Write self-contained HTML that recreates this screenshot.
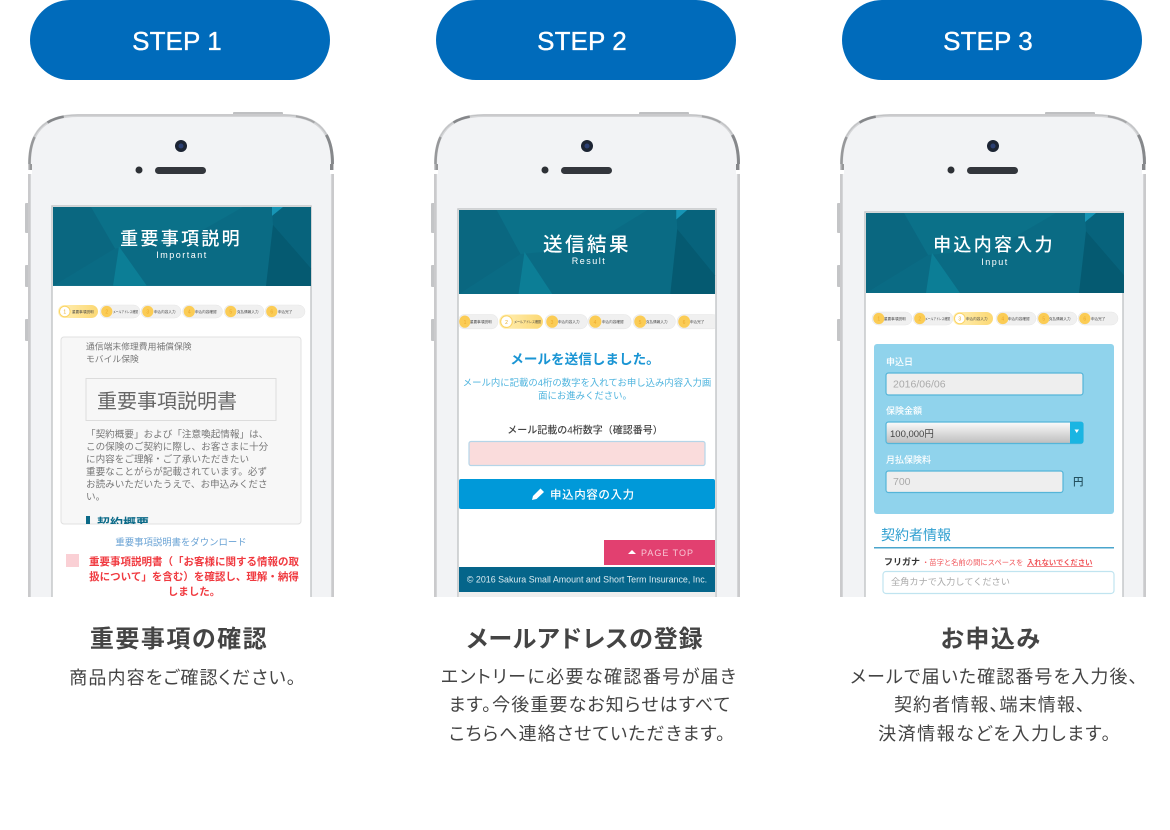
<!DOCTYPE html>
<html lang="ja">
<head>
<meta charset="utf-8">
<title>STEP</title>
<style>
html,body{margin:0;padding:0;background:#fff;width:1170px;height:830px;overflow:hidden}
svg{display:block}
text{font-family:"Liberation Sans","Noto Sans CJK JP",sans-serif;text-spacing-trim:space-all}
.step{font-size:26px;fill:#fff;stroke:#fff;stroke-width:.35px;letter-spacing:.1px;text-anchor:middle;dominant-baseline:central}
.cap{font-size:24px;font-weight:700;fill:#444;text-anchor:middle;letter-spacing:1.5px;font-feature-settings:"palt"}
.sub{font-size:18px;fill:#444;text-anchor:middle;letter-spacing:1.100px;font-feature-settings:"palt"}
.ht{font-size:18px;font-weight:500;fill:#fff;text-anchor:middle;letter-spacing:2.300px}
.he{font-size:9px;fill:#fff;text-anchor:middle;letter-spacing:1.5px}
.t{font-size:3.600px;fill:#444}
.n{font-size:5px;fill:#eda92a;text-anchor:middle}
.n2{font-size:5px;fill:#e6a91f;text-anchor:middle}
.w{font-size:9px;font-weight:500;fill:#fff}
</style>
</head>
<body>
<svg width="1170" height="830" viewBox="0 0 1170 830" xmlns="http://www.w3.org/2000/svg">
<defs>
<linearGradient id="sel" x1="0" y1="0" x2="0" y2="1">
<stop offset="0" stop-color="#fbfbfb"/><stop offset="1" stop-color="#bdbdbd"/>
</linearGradient>
<linearGradient id="yel" x1="0" y1="0" x2="1" y2="0">
<stop offset="0" stop-color="#fff0b8"/><stop offset="1" stop-color="#fcd873"/>
</linearGradient>
<g id="phone">
<rect x="-3" y="89" width="4" height="30" rx="1" fill="#c4c5c7"/>
<rect x="-3" y="151" width="4" height="22" rx="1" fill="#c4c5c7"/>
<rect x="-3" y="205" width="4" height="22" rx="1" fill="#c4c5c7"/>
<rect x="205" y="-2" width="50" height="4" rx="1" fill="#bfc0c2"/>
<path d="M1.5,483 V50 C1.5,20 14,1.5 50,1.5 H256 C292,1.5 304.500,20 304.500,50 V483" fill="#f2f3f5" stroke="#d4d5d7" stroke-width="3"/>
<path d="M1,483 V50 C1,20 14,1 50,1 H256 C292,1 305,20 305,50 V483" fill="none" stroke="#bfc0c2" stroke-width="1"/>
<path d="M1.500,50 C1.500,20 14,1.500 50,1.500" pathLength="100" stroke-dasharray="35 100" fill="none" stroke="#97989a" stroke-width="2.500"/>
<path d="M1.500,50 C1.500,20 14,1.500 50,1.500" pathLength="100" stroke-dasharray="0 60 22 100" fill="none" stroke="#85878a" stroke-width="2.500"/>
<path d="M304.500,50 C304.500,20 292,1.500 256,1.500" pathLength="100" stroke-dasharray="38 100" fill="none" stroke="#86888b" stroke-width="3"/>
<path d="M304.500,50 C304.500,20 292,1.500 256,1.500" pathLength="100" stroke-dasharray="0 60 25 100" fill="none" stroke="#a5a6a8" stroke-width="2"/>
<rect x="1.500" y="50" width="2.500" height="6" fill="#97989a"/>
<rect x="302" y="50" width="3" height="6" fill="#86888b"/>
<rect x="0" y="56" width="4" height="4" fill="#fff"/>
<rect x="302" y="56" width="4" height="4" fill="#fff"/>
<circle cx="153" cy="32" r="6" fill="#1c2433"/>
<circle cx="153" cy="32" r="2.500" fill="#2b3f73"/>
<circle cx="111" cy="56" r="3.500" fill="#2d3035"/>
<rect x="127" y="53" width="51" height="7" rx="3.500" fill="#33363c"/>
</g>
<g id="hdr">
<rect width="258" height="80" fill="#0a6b84"/>
<polygon points="0,0 38,0 62,42 0,80" fill="#0a6780"/>
<polygon points="38,0 190,0 128,36 62,42" fill="#0b7189"/>
<polygon points="60,80 66,40 94,80" fill="#0c7e96"/>
<polygon points="213,80 220,18 258,62 258,80" fill="#055a71"/>
<polygon points="219,0 258,0 258,62 220,18" fill="#07637c"/>
<polygon points="219,9 230,0 219,0" fill="#1795b5"/>
</g>
<g id="pill">
<rect width="40" height="13" rx="6.500" fill="#f0f0f0" stroke="#e6e6e6" stroke-width=".5"/>
<circle cx="6.800" cy="6.500" r="5.600" fill="#fbcc55"/>
</g>
<g id="pillon">
<rect width="40" height="13" rx="6.500" fill="url(#yel)"/>
<circle cx="6.800" cy="6.500" r="5.300" fill="#fff" stroke="#fbd465" stroke-width="1"/>
</g>
<clipPath id="c2"><rect x="459" y="300" width="256" height="40"/></clipPath>
<clipPath id="c1"><rect x="62" y="338" width="238" height="186"/></clipPath>
</defs>

<!-- Pills -->
<rect x="30" y="0" width="300" height="80" rx="40" fill="#006bbb"/>
<rect x="436" y="0" width="300" height="80" rx="40" fill="#006bbb"/>
<rect x="842" y="0" width="300" height="80" rx="40" fill="#006bbb"/>
<text class="step" x="177" y="41">STEP 1</text>
<text class="step" x="582" y="41">STEP 2</text>
<text class="step" x="988" y="41">STEP 3</text>

<!-- Phone frames -->
<use href="#phone" transform="translate(28,114)"/>
<use href="#phone" transform="translate(434,114)"/>
<use href="#phone" transform="translate(840,114)"/>

<!-- ============ Phone 1 ============ -->
<rect x="52" y="206" width="259" height="392" fill="#fff" stroke="#c5c8ca" stroke-width="1.5"/>
<use href="#hdr" transform="translate(53,207) scale(1,.987)"/>
<text class="ht" x="181" y="245">重要事項説明</text>
<text class="he" x="182" y="258">Important</text>

<use href="#pillon" x="58" y="305"/>
<use href="#pill" x="100" y="305"/>
<use href="#pill" x="141" y="305"/>
<use href="#pill" x="182.500" y="305"/>
<use href="#pill" x="224" y="305"/>
<use href="#pill" x="265" y="305"/>
<text class="n2" x="64.800" y="313.500">1</text>
<text class="n" x="106.800" y="313.500">2</text>
<text class="n" x="147.800" y="313.500">3</text>
<text class="n" x="189.300" y="313.500">4</text>
<text class="n" x="230.800" y="313.500">5</text>
<text class="n" x="271.800" y="313.500">6</text>
<text class="t" x="72" y="313">重要事項説明</text>
<text class="t" x="113" y="313" textLength="25" lengthAdjust="spacingAndGlyphs">メールアドレス確認</text>
<text class="t" x="154" y="313">申込内容入力</text>
<text class="t" x="195" y="313">申込内容確認</text>
<text class="t" x="237" y="313">克払情報入力</text>
<text class="t" x="278" y="313">申込完了</text>

<rect x="61" y="337" width="240" height="187" rx="3" fill="#f7f7f7" stroke="#e0e0e0" stroke-width="1"/>
<g clip-path="url(#c1)">
<text x="86" y="349.500" style="font-size:8.800px;fill:#777">通信端末修理費用補償保険</text>
<text x="86" y="362" style="font-size:8.800px;fill:#777">モバイル保険</text>
<rect x="86" y="378.500" width="190" height="42" fill="#f7f7f7" stroke="#dcdcdc" stroke-width="1"/>
<text x="97" y="408" style="font-size:20px;fill:#666">重要事項説明書</text>
<g style="font-size:9.600px;fill:#777">
<text x="86" y="437.500">「契約概要」および「注意喚起情報」は、</text>
<text x="86" y="450">この保険のご契約に際し、お客さまに十分</text>
<text x="86" y="462.500">に内容をご理解・ご了承いただきたい</text>
<text x="86" y="475">重要なことがらが記載されています。必ず</text>
<text x="86" y="487.500">お読みいただいたうえで、お申込みくださ</text>
<text x="86" y="500">い。</text>
</g>
<rect x="86" y="516" width="4" height="10" fill="#0b6a88"/>
<text x="97" y="528" style="font-size:13px;font-weight:700;fill:#0b6a88">契約概要</text>
</g>
<text x="181" y="545.500" text-anchor="middle" style="font-size:9.400px;fill:#6aa3d5">重要事項説明書をダウンロード</text>
<rect x="66" y="554" width="13" height="13" fill="#fad0d5"/>
<g style="font-size:10.500px;font-weight:700;fill:#f03a40" text-anchor="middle">
<text x="194" y="565">重要事項説明書（「お客様に関する情報の取</text>
<text x="194" y="580">扱について」を含む）を確認し、理解・納得</text>
<text x="194" y="595">しました。</text>
</g>

<!-- ============ Phone 2 ============ -->
<rect x="458" y="209" width="258" height="389" fill="#fff" stroke="#c5c8ca" stroke-width="1.5"/>
<use href="#hdr" transform="translate(459,210) scale(.992,1.05)"/>
<text class="ht" x="587" y="251" style="font-size:19.500px;letter-spacing:2.500px">送信結果</text>
<text class="he" x="589" y="264">Result</text>
<g clip-path="url(#c2)">
<use href="#pill" transform="translate(458,314.500) scale(1,1.1)"/>
<use href="#pillon" transform="translate(499,314.500) scale(1.1,1.1)"/>
<use href="#pill" transform="translate(545,314.500) scale(1.06,1.1)"/>
<use href="#pill" transform="translate(588,314.500) scale(1.08,1.1)"/>
<use href="#pill" transform="translate(633,314.500) scale(1.06,1.1)"/>
<use href="#pill" transform="translate(677,314.500) scale(1.06,1.1)"/>
<text class="n" x="465" y="324">1</text>
<text class="n2" x="506.500" y="324">2</text>
<text class="n" x="552" y="324">3</text>
<text class="n" x="595" y="324">4</text>
<text class="n" x="640" y="324">5</text>
<text class="n" x="684" y="324">6</text>
<text class="t" x="470" y="323">重要事項説明</text>
<text class="t" x="514" y="323" textLength="27" lengthAdjust="spacingAndGlyphs">メールアドレス確認</text>
<text class="t" x="558" y="323">申込内容入力</text>
<text class="t" x="602" y="323">申込内容確認</text>
<text class="t" x="646" y="323">克払情報入力</text>
<text class="t" x="690" y="323">申込完了</text>
</g>
<text x="585" y="364" text-anchor="middle" style="font-size:13.600px;font-weight:700;fill:#1a95d4">メールを送信しました。</text>
<g style="font-size:9.400px;fill:#4fb4de" text-anchor="middle">
<text x="587" y="386">メール内に記載の4桁の数字を入れてお申し込み内容入力画</text>
<text x="585" y="399">面にお進みください。</text>
</g>
<text x="585" y="433.500" text-anchor="middle" style="font-size:10px;font-weight:500;fill:#444">メール記載の4桁数字（確認番号）</text>
<rect x="469" y="441.500" width="236" height="24" rx="2" fill="#fadcdc" stroke="#b5d5e8" stroke-width="1.2"/>
<rect x="459" y="479" width="256" height="30" rx="2" fill="#0099d9"/>
<path d="M532,500 L533,496 L540.500,488.500 L544,492 L536.500,499 Z" fill="#fff"/>
<text x="550" y="498.500" style="font-size:11.500px;font-weight:500;fill:#fff;letter-spacing:.6px">申込内容の入力</text>
<rect x="604" y="540" width="111" height="25" fill="#e24070"/>
<polygon points="628,554 636,554 632,550" fill="#fff"/>
<text x="641" y="556" style="font-size:9px;fill:#f8c6d4;letter-spacing:1px">PAGE TOP</text>
<rect x="459" y="567" width="256" height="25" fill="#05658a"/>
<text x="587" y="582.500" text-anchor="middle" style="font-size:8.900px;fill:#dcecf2">© 2016 Sakura Small Amount and Short Term Insurance, Inc.</text>
<rect x="459" y="592" width="256" height="6" fill="#eeeeee"/>

<!-- ============ Phone 3 ============ -->
<rect x="865" y="212" width="258" height="386" fill="#fff" stroke="#c5c8ca" stroke-width="1.5"/>
<use href="#hdr" transform="translate(866,213)"/>
<text class="ht" x="994" y="251">申込内容入力</text>
<text class="he" x="995" y="265">Input</text>
<use href="#pill" x="872" y="312"/>
<use href="#pill" x="913" y="312"/>
<use href="#pillon" x="953" y="312"/>
<use href="#pill" x="996" y="312"/>
<use href="#pill" x="1037" y="312"/>
<use href="#pill" x="1078" y="312"/>
<text class="n" x="878.800" y="320.500">1</text>
<text class="n" x="919.800" y="320.500">2</text>
<text class="n2" x="959.800" y="320.500">3</text>
<text class="n" x="1002.800" y="320.500">4</text>
<text class="n" x="1043.800" y="320.500">5</text>
<text class="n" x="1084.800" y="320.500">6</text>
<text class="t" x="884" y="320">重要事項説明</text>
<text class="t" x="925" y="320" textLength="25" lengthAdjust="spacingAndGlyphs">メールアドレス確認</text>
<text class="t" x="966" y="320">申込内容入力</text>
<text class="t" x="1008" y="320">申込内容確認</text>
<text class="t" x="1049" y="320">克払情報入力</text>
<text class="t" x="1091" y="320">申込完了</text>

<rect x="874" y="344" width="240" height="170" rx="3" fill="#90d3ec"/>
<text class="w" x="886" y="365">申込日</text>
<rect x="886" y="373" width="197" height="22" rx="2.500" fill="#eeeeee" stroke="#55b5d8" stroke-width="1.2"/>
<text x="893" y="387.500" style="font-size:10.500px;fill:#aaa">2016/06/06</text>
<text class="w" x="886" y="414">保険金額</text>
<rect x="886" y="422" width="197" height="21.500" rx="2.500" fill="url(#sel)" stroke="#55b5d8" stroke-width="1.2"/>
<path d="M1070,422 H1081 Q1083.500,422 1083.500,424.500 V441 Q1083.500,443.500 1081,443.500 H1070 Z" fill="#1ab5e2"/>
<polygon points="1074.500,429.500 1079,429.500 1076.750,433" fill="#fff"/>
<text x="890" y="437" style="font-size:9.500px;fill:#444">100,000円</text>
<text class="w" x="886" y="463">月払保険料</text>
<rect x="886" y="471" width="177" height="21.500" rx="2.500" fill="#eeeeee" stroke="#55b5d8" stroke-width="1.2"/>
<text x="893" y="485" style="font-size:10.500px;fill:#aaa">700</text>
<text x="1073" y="485" style="font-size:10.500px;font-weight:500;fill:#23505f">円</text>
<text x="881" y="540" style="font-size:14px;fill:#2f9fd0">契約者情報</text>
<rect x="874" y="547" width="240" height="1.500" fill="#4aa5cc"/>
<text x="884" y="565" style="font-size:9px;font-weight:700;fill:#333">フリガナ</text>
<text x="922" y="565" style="font-size:7.300px;fill:#f0555a">・苗字と名前の間にスペースを</text>
<text x="1027" y="565" style="font-size:7.300px;font-weight:700;fill:#f0555a;text-decoration:underline">入れないでください</text>
<rect x="883" y="571.500" width="231" height="22" rx="3" fill="#fff" stroke="#c0e4f0" stroke-width="1.2"/>
<text x="891" y="585" style="font-size:9.200px;fill:#aaa">全角カナで入力してください</text>

<!-- Cut-off below phones -->
<rect x="0" y="597" width="1170" height="233" fill="#fff"/>

<!-- Captions -->
<text class="cap" x="179" y="647">重要事項の確認</text>
<text class="cap" x="585" y="647" style="letter-spacing:.9px">メールアドレスの登録</text>
<text class="cap" x="991" y="647">お申込み</text>
<text class="sub" x="183" y="684">商品内容をご確認ください。</text>
<text class="sub" x="589" y="683" style="letter-spacing:1.400px">エントリーに必要な確認番号が届き</text>
<text class="sub" x="590" y="711">ます。今後重要なお知らせはすべて</text>
<text class="sub" x="587.500" y="740">こちらへ連絡させていただきます。</text>
<text class="sub" x="994.500" y="683">メールで届いた確認番号を入力後、</text>
<text class="sub" x="990" y="711">契約者情報、端末情報、</text>
<text class="sub" x="995" y="740" style="letter-spacing:1.500px">決済情報などを入力します。</text>
</svg>
</body>
</html>
